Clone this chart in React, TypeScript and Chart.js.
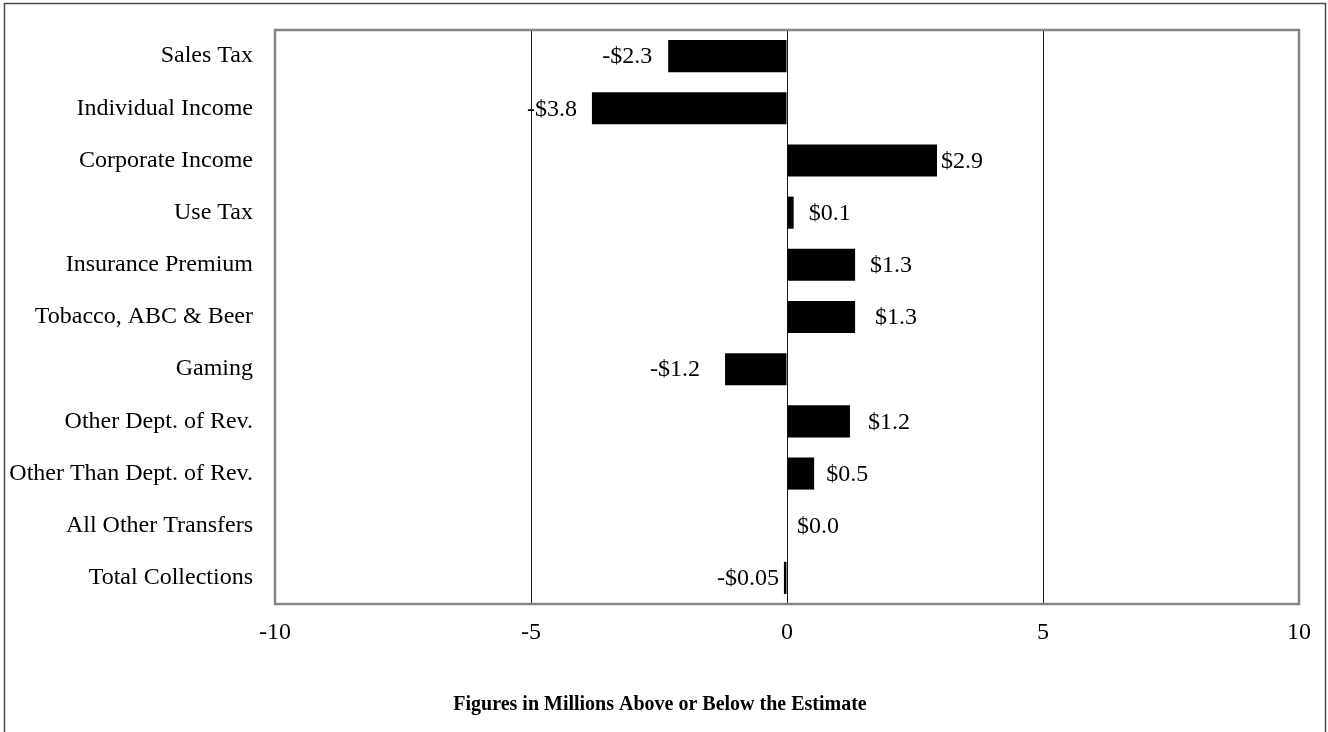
import React, { useEffect, useRef } from "react";
import { Chart, registerables } from "chart.js";

Chart.register(...registerables);

const categories = [
  "Sales Tax",
  "Individual Income",
  "Corporate Income",
  "Use Tax",
  "Insurance Premium",
  "Tobacco, ABC & Beer",
  "Gaming",
  "Other Dept. of Rev.",
  "Other Than Dept. of Rev.",
  "All Other Transfers",
  "Total Collections",
];

const values = [-2.32, -3.81, 2.93, 0.13, 1.33, 1.33, -1.21, 1.23, 0.53, 0.0, -0.06];

const valueLabels = ["-$2.3", "-$3.8", "$2.9", "$0.1", "$1.3", "$1.3", "-$1.2", "$1.2", "$0.5", "$0.0", "-$0.05"];

// style: distance (px) between each bar end and its value label
const labelGaps = [16, 15, 4, 15, 15, 20, 25, 18, 12, 10, 5];

const xTicks = [-10, -5, 0, 5, 10];

const axisTitle = "Figures in Millions Above or Below the Estimate";

const FONT = '"Liberation Serif", "Times New Roman", serif';

const framePlugin = {
  id: "frame",
  beforeDraw(chart: any) {
    const { ctx, width, height } = chart;
    ctx.save();
    ctx.fillStyle = "#ffffff";
    ctx.fillRect(0, 0, width, height);
    ctx.strokeStyle = "#4a4a4a";
    ctx.lineWidth = 1.5;
    ctx.beginPath();
    ctx.moveTo(4.5, height + 5);
    ctx.lineTo(4.5, 3.5);
    ctx.lineTo(1325.5, 3.5);
    ctx.lineTo(1325.5, height + 5);
    ctx.stroke();
    ctx.restore();
  },
  afterDraw(chart: any) {
    const { ctx, chartArea } = chart;
    ctx.save();
    ctx.strokeStyle = "#858585";
    ctx.lineWidth = 2.5;
    ctx.strokeRect(chartArea.left, chartArea.top, chartArea.right - chartArea.left, chartArea.bottom - chartArea.top);
    // axis caption
    ctx.font = `bold 20px ${FONT}`;
    ctx.fillStyle = "#000000";
    ctx.textAlign = "center";
    ctx.textBaseline = "middle";
    ctx.fillText(axisTitle, 660, 705);
    ctx.restore();
  },
};

const labelPlugin = {
  id: "valueLabels",
  afterDatasetsDraw(chart: any) {
    const { ctx } = chart;
    const meta = chart.getDatasetMeta(0);
    ctx.save();
    ctx.font = `24px ${FONT}`;
    ctx.fillStyle = "#000000";
    ctx.textBaseline = "middle";
    meta.data.forEach((bar: any, i: number) => {
      const v = values[i];
      const gap = labelGaps[i];
      if (v < 0) {
        ctx.textAlign = "right";
        ctx.fillText(valueLabels[i], bar.x - gap, bar.y + 1);
      } else {
        ctx.textAlign = "left";
        ctx.fillText(valueLabels[i], bar.x + gap, bar.y + 1);
      }
    });
    ctx.restore();
  },
};

export default function App() {
  const canvasRef = useRef<HTMLCanvasElement | null>(null);

  useEffect(() => {
    if (!canvasRef.current) return;
    const chart = new Chart(canvasRef.current, {
      type: "bar",
      data: {
        labels: categories,
        datasets: [
          {
            data: values,
            backgroundColor: "#000000",
            borderWidth: 0,
            categoryPercentage: 1,
            barPercentage: 0.615,
          },
        ],
      },
      options: {
        indexAxis: "y",
        responsive: false,
        animation: false,
        layout: { padding: { top: 30, right: 29, bottom: 0, left: 0 } },
        plugins: {
          legend: { display: false },
          tooltip: { enabled: false },
          title: { display: false },
        },
        scales: {
          x: {
            type: "linear",
            min: -10,
            max: 10,
            afterBuildTicks: (scale: any) => {
              scale.ticks = xTicks.map((v) => ({ value: v }));
            },
            afterFit: (scale: any) => {
              scale.height = 128;
            },
            ticks: {
              color: "#000000",
              font: { family: FONT, size: 24, lineHeight: 1.2 },
              padding: 14,
              maxRotation: 0,
              callback: (v: any) => String(v),
            },
            grid: { color: "#1a1a1a", lineWidth: 1, drawTicks: false },
            border: { display: false },
          },
          y: {
            afterFit: (scale: any) => {
              scale.width = 275;
              scale.paddingTop = 0;
              scale.paddingBottom = 0;
            },
            ticks: {
              color: "#000000",
              font: { family: FONT, size: 24, lineHeight: 1.2 },
              padding: 22,
            },
            grid: { display: false, drawTicks: false },
            border: { display: false },
          },
        },
      },
      plugins: [framePlugin, labelPlugin],
    });
    return () => chart.destroy();
  }, []);

  return (
    <div style={{ position: "fixed", left: 0, top: 0, width: 1328, height: 732, background: "#fff" }}>
      <canvas ref={canvasRef} width={1328} height={732} style={{ display: "block" }} />
    </div>
  );
}
